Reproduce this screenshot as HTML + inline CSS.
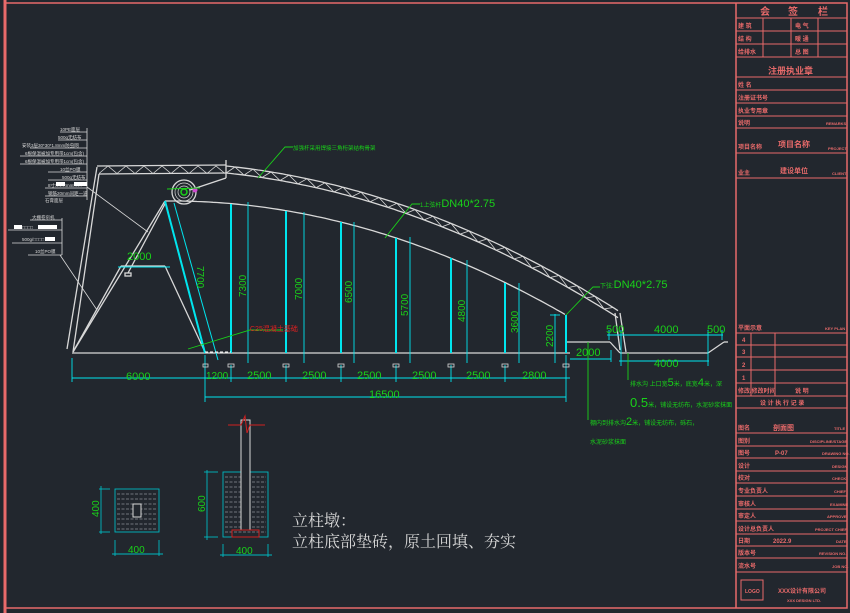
<!DOCTYPE html>
<html><head><meta charset="utf-8"><style>
html,body{margin:0;padding:0;background:#22272e;}
svg{display:block}
text{font-family:"Liberation Sans","Noto Sans CJK SC",sans-serif}
</style></head><body>
<svg id="s" width="850" height="613" viewBox="0 0 850 613" xmlns="http://www.w3.org/2000/svg">
<rect width="850" height="613" fill="#22272e"/>
<!-- frame -->
<g stroke="#e86a6a" fill="none">
<line x1="5" y1="0" x2="5" y2="613" stroke-width="3"/>
<rect x="5" y="3" width="842" height="605" stroke-width="1.5"/>
<line x1="736" y1="3" x2="736" y2="608" stroke-width="1.5"/>
<g stroke-width="1">
<line x1="736" y1="18" x2="847" y2="18"/><line x1="736" y1="31" x2="847" y2="31"/>
<line x1="736" y1="44" x2="847" y2="44"/><line x1="736" y1="57" x2="847" y2="57"/>
<line x1="736" y1="77" x2="847" y2="77"/><line x1="736" y1="90" x2="847" y2="90"/>
<line x1="736" y1="103" x2="847" y2="103"/><line x1="736" y1="116" x2="847" y2="116"/>
<line x1="736" y1="128" x2="847" y2="128"/><line x1="736" y1="153" x2="847" y2="153"/>
<line x1="736" y1="178" x2="847" y2="178"/>
<line x1="763" y1="18" x2="763" y2="57"/><line x1="791" y1="18" x2="791" y2="57"/><line x1="818" y1="18" x2="818" y2="57"/>
<line x1="736" y1="333" x2="847" y2="333"/><line x1="736" y1="345" x2="847" y2="345"/>
<line x1="736" y1="357" x2="847" y2="357"/><line x1="736" y1="370" x2="847" y2="370"/>
<line x1="736" y1="383" x2="847" y2="383"/><line x1="736" y1="396" x2="847" y2="396"/>
<line x1="736" y1="408" x2="847" y2="408"/>
<line x1="751" y1="333" x2="751" y2="396"/><line x1="775" y1="333" x2="775" y2="396"/>
<line x1="736" y1="433" x2="847" y2="433"/><line x1="736" y1="446" x2="847" y2="446"/>
<line x1="736" y1="458" x2="847" y2="458"/><line x1="736" y1="471" x2="847" y2="471"/>
<line x1="736" y1="483" x2="847" y2="483"/><line x1="736" y1="496" x2="847" y2="496"/>
<line x1="736" y1="509" x2="847" y2="509"/><line x1="736" y1="521" x2="847" y2="521"/>
<line x1="736" y1="534" x2="847" y2="534"/><line x1="736" y1="546" x2="847" y2="546"/>
<line x1="736" y1="558" x2="847" y2="558"/><line x1="736" y1="572" x2="847" y2="572"/>
<rect x="741" y="580" width="22" height="20"/>
</g></g>
<g fill="#e86a6a" font-size="6" font-weight="bold">
<text x="760" y="15" font-size="10">会</text><text x="788" y="15" font-size="10">签</text><text x="818" y="15" font-size="10">栏</text>
<text x="738" y="28">建 筑</text><text x="795" y="28">电 气</text>
<text x="738" y="41">结 构</text><text x="795" y="41">暖 通</text>
<text x="738" y="54">给排水</text><text x="795" y="54">总 图</text>
<text x="768" y="74" font-size="9">注册执业章</text>
<text x="738" y="87">姓 名</text><text x="738" y="100">注册证书号</text><text x="738" y="113">执业专用章</text>
<text x="738" y="125">说明</text><text x="826" y="125" font-size="4">REMARKS</text>
<text x="738" y="149">项目名称</text><text x="778" y="147" font-size="8">项目名称</text><text x="828" y="150" font-size="4">PROJECT</text>
<text x="738" y="175">业主</text><text x="780" y="173" font-size="7">建设单位</text><text x="832" y="175" font-size="4">CLIENT</text>
<text x="738" y="330">平面示意</text><text x="825" y="330" font-size="4">KEY PLAN</text>
<text x="742" y="342">4</text><text x="742" y="354">3</text><text x="742" y="367">2</text><text x="742" y="380">1</text>
<text x="738" y="393">修改/修改时间</text><text x="795" y="393">说 明</text>
<text x="760" y="405">设 计 执 行 记 录</text>
<text x="738" y="430">图名</text><text x="773" y="430" font-size="7">剖面图</text><text x="834" y="430" font-size="4">TITLE</text>
<text x="738" y="443">图别</text><text x="810" y="443" font-size="4">DISCIPLINE/STAGE</text>
<text x="738" y="455">图号</text><text x="775" y="455">P-07</text><text x="822" y="455" font-size="4">DRAWING NO.</text>
<text x="738" y="468">设计</text><text x="832" y="468" font-size="4">DESIGN</text>
<text x="738" y="480">校对</text><text x="832" y="480" font-size="4">CHECK</text>
<text x="738" y="493">专业负责人</text><text x="834" y="493" font-size="4">CHIEF</text>
<text x="738" y="506">审核人</text><text x="830" y="506" font-size="4">EXAMINE</text>
<text x="738" y="518">审定人</text><text x="827" y="518" font-size="4">APPROVE</text>
<text x="738" y="531">设计总负责人</text><text x="815" y="531" font-size="4">PROJECT CHIEF</text>
<text x="738" y="543">日期</text><text x="773" y="543">2022.9</text><text x="836" y="543" font-size="4">DATE</text>
<text x="738" y="555">版本号</text><text x="819" y="555" font-size="4">REVISION NO.</text>
<text x="738" y="568">流水号</text><text x="832" y="568" font-size="4">JOB NO.</text>
<text x="745" y="593" font-size="5">LOGO</text><text x="778" y="593">XXX设计有限公司</text><text x="787" y="602" font-size="4">XXX DESIGN LTD.</text>
</g>

<!-- left legends -->
<g stroke="#d8d8d8" stroke-width="0.8" fill="none">
<line x1="87" y1="128" x2="87" y2="200"/>
<line x1="60" y1="132" x2="87" y2="132"/><line x1="58" y1="140" x2="87" y2="140"/>
<line x1="30" y1="148" x2="87" y2="148"/><line x1="20" y1="156" x2="87" y2="156"/>
<line x1="20" y1="164" x2="87" y2="164"/><line x1="48" y1="172" x2="87" y2="172"/>
<line x1="48" y1="180" x2="87" y2="180"/><line x1="45" y1="188" x2="87" y2="188"/>
<line x1="45" y1="196" x2="87" y2="196"/>
<line x1="87" y1="187" x2="148" y2="232"/>
<line x1="62" y1="218" x2="62" y2="255"/>
<line x1="30" y1="220" x2="62" y2="220"/><line x1="8" y1="230" x2="62" y2="230"/>
<line x1="12" y1="243" x2="62" y2="243"/><line x1="28" y1="255" x2="62" y2="255"/>
<line x1="60" y1="255" x2="97" y2="310"/>
</g>
<g fill="#d8d8d8" font-size="4.5">
<text x="60" y="131">10PE面层</text><text x="58" y="139">500g无纺布</text>
<text x="22" y="147">安装3层30*30*1.8mm防虫网</text><text x="25" y="155">6根保温被加专用带1cm(包含)</text>
<text x="25" y="163">6根保温被加专用带1cm(包含)</text><text x="60" y="171">10丝PO膜</text>
<text x="62" y="179">500g无纺布</text><text x="48" y="187">8寸□□□□mm□□□</text><text x="48" y="195">钢筋20mm间距一道</text><text x="45" y="202">石膏面层</text>
<text x="32" y="219">大棚卷帘机</text><text x="14" y="229">□□□□□□□</text><text x="22" y="241">500g/□□□□</text><text x="35" y="253">10丝PO膜</text>
</g>
<g fill="#ffffff"><rect x="56" y="182" width="9" height="4"/><rect x="74" y="182" width="13" height="4"/><rect x="14" y="225" width="8" height="4"/><rect x="38" y="225" width="19" height="4"/><rect x="45" y="237" width="10" height="4"/></g>

<!-- structure -->
<g id="st" stroke="#d8d8d8" stroke-width="1.3" fill="none">
<line x1="72" y1="353" x2="570" y2="353"/>
<line x1="67" y1="349" x2="97" y2="167"/><line x1="73" y1="352" x2="99" y2="174"/>
<line x1="73" y1="352" x2="121" y2="266"/><line x1="121" y1="266" x2="165" y2="266"/><line x1="165" y1="266" x2="205" y2="352"/>
<line x1="73" y1="352" x2="165" y2="201"/>
<line x1="166" y1="202" x2="128" y2="273"/><rect x="125" y="273" width="6" height="3"/>
<line x1="97" y1="166" x2="226" y2="165"/><line x1="99" y1="174" x2="226" y2="173"/>
<line x1="190" y1="190" x2="226" y2="178"/><line x1="226" y1="160" x2="226" y2="178"/>
<path id="lower" d=""/><path id="top" d=""/><path id="bot" d=""/><polyline id="zz" points="" stroke-width="0.8"/><polyline id="zz2" points="" stroke-width="0.8"/>
<line x1="566" y1="342" x2="610" y2="342"/><line x1="610" y1="342" x2="620" y2="353"/>
<line x1="620" y1="353" x2="708" y2="353"/><line x1="708" y1="353" x2="724" y2="342"/><line x1="724" y1="342" x2="728" y2="342"/>
<line x1="620" y1="313" x2="626" y2="352"/><line x1="615" y1="313" x2="620" y2="350"/>
<circle cx="184" cy="192" r="12"/><circle cx="184" cy="192" r="9" stroke-width="0.7"/><circle cx="184" cy="192" r="6" stroke-width="0.7"/>
</g>
<circle cx="184" cy="192" r="3" fill="none" stroke="#19d219" stroke-width="1.5"/>
<circle cx="195" cy="190" r="2.5" fill="#d04bd0"/>
<!-- columns -->
<g stroke="#00e5ee" fill="none">
<line x1="165" y1="201" x2="205" y2="353" stroke-width="2"/>
<line x1="174" y1="203" x2="218" y2="360" stroke-width="1"/>
<g stroke-width="2">
<line x1="231" y1="204" x2="231" y2="353"/><line x1="286" y1="211" x2="286" y2="353"/>
<line x1="341" y1="222" x2="341" y2="353"/><line x1="396" y1="238" x2="396" y2="353"/>
<line x1="451" y1="258" x2="451" y2="353"/><line x1="505" y1="283" x2="505" y2="353"/>
<line x1="566" y1="315" x2="566" y2="353"/></g>
<g stroke-width="0.9">
<line x1="248" y1="202" x2="248" y2="363"/><line x1="304" y1="212" x2="304" y2="363"/>
<line x1="354" y1="222" x2="354" y2="363"/><line x1="410" y1="237" x2="410" y2="363"/>
<line x1="467" y1="260" x2="467" y2="363"/><line x1="519" y1="283" x2="519" y2="363"/>
<line x1="555" y1="314" x2="555" y2="363"/>
<line x1="72" y1="378" x2="570" y2="378"/><line x1="205" y1="397" x2="566" y2="397"/>
<line x1="72" y1="358" x2="72" y2="382"/><line x1="205" y1="355" x2="205" y2="402"/>
<line x1="231" y1="365" x2="231" y2="382"/><line x1="286" y1="365" x2="286" y2="382"/>
<line x1="341" y1="365" x2="341" y2="382"/><line x1="396" y1="365" x2="396" y2="382"/>
<line x1="451" y1="365" x2="451" y2="382"/><line x1="505" y1="365" x2="505" y2="382"/>
<line x1="566" y1="355" x2="566" y2="402"/>
<line x1="118" y1="267" x2="170" y2="267"/>
<line x1="570" y1="359" x2="611" y2="359"/><line x1="611" y1="350" x2="611" y2="362"/>
<line x1="607" y1="335" x2="723" y2="335"/><line x1="619" y1="361" x2="709" y2="361"/>
<line x1="609" y1="330" x2="609" y2="340"/><line x1="621" y1="330" x2="621" y2="366"/><line x1="708" y1="330" x2="708" y2="366"/><line x1="722" y1="330" x2="722" y2="340"/>
<line x1="550" y1="315" x2="560" y2="315"/>
</g></g>
<g fill="none" stroke="#d8d8d8" stroke-width="0.8">
<rect x="203" y="364" width="5" height="3"/><rect x="228" y="364" width="6" height="3"/><rect x="283" y="364" width="6" height="3"/>
<rect x="338" y="364" width="6" height="3"/><rect x="393" y="364" width="6" height="3"/><rect x="448" y="364" width="6" height="3"/>
<rect x="502" y="364" width="6" height="3"/><rect x="563" y="364" width="6" height="3"/>
</g>
<!-- green dims -->
<g fill="#19d219" font-size="11">
<text x="127" y="260">2000</text>
<text x="126" y="380" font-size="11">6000</text>
<text x="206" y="379" font-size="10">1200</text>
<text x="247" y="379">2500</text><text x="302" y="379">2500</text><text x="357" y="379">2500</text><text x="412" y="379">2500</text><text x="466" y="379">2500</text><text x="522" y="379">2800</text>
<text x="369" y="398">16500</text>
<text x="576" y="356">2000</text>
<text x="606" y="333">500</text><text x="654" y="333">4000</text><text x="707" y="333">500</text><text x="654" y="367">4000</text>
<text transform="translate(197,266) rotate(90)" font-size="10">7700</text>
<text transform="translate(246,297) rotate(-90)" font-size="10">7300</text>
<text transform="translate(302,300) rotate(-90)" font-size="10">7000</text>
<text transform="translate(352,303) rotate(-90)" font-size="10">6500</text>
<text transform="translate(408,316) rotate(-90)" font-size="10">5700</text>
<text transform="translate(465,322) rotate(-90)" font-size="10">4800</text>
<text transform="translate(518,333) rotate(-90)" font-size="10">3600</text>
<text transform="translate(553,347) rotate(-90)" font-size="10">2200</text>
<text x="420" y="207" font-size="11"><tspan font-size="6">1上弦杆</tspan>DN40*2.75</text>
<text x="600" y="288" font-size="11"><tspan font-size="6">下弦:</tspan>DN40*2.75</text>
<text x="293" y="150" font-size="5.5">加强杆采用焊接三角桁架结构骨架</text>
<text x="630" y="386" font-size="6">排水沟 上口宽<tspan font-size="11">5</tspan>米，底宽<tspan font-size="11">4</tspan>米，深</text>
<text x="630" y="407" font-size="6"><tspan font-size="13">0.5</tspan>米，铺设无纺布，水泥砂浆抹面</text>
<text x="590" y="425" font-size="6">棚内到排水沟<tspan font-size="11">2</tspan>米，铺设无纺布，砾石，</text>
<text x="590" y="444" font-size="6">水泥砂浆抹面</text>
</g>
<g stroke="#19d219" fill="none" stroke-width="0.9">
<polyline points="258,178 285,147 293,147"/>
<polyline points="385,238 412,204 420,204"/>
<polyline points="566,315 593,287 600,287"/>
<polyline points="188,349 250,330 283,330"/>
<line x1="588" y1="342" x2="588" y2="420"/>
<line x1="628" y1="353" x2="628" y2="380"/>
<line x1="167" y1="189" x2="200" y2="188"/>
</g>
<text x="250" y="331" fill="#e02020" font-size="7">C25混凝土基础</text>
<g stroke="#ffffff" stroke-dasharray="3,2" stroke-width="1"><line x1="205" y1="352" x2="231" y2="352"/></g>

<!-- details -->
<g id="det" stroke="#00b8c0" fill="none" stroke-width="0.9">
<rect x="115" y="489" width="44" height="43"/>
<rect x="223" y="472" width="45" height="65"/>
<line x1="101" y1="486" x2="101" y2="534"/><line x1="99" y1="489" x2="110" y2="489"/><line x1="99" y1="532" x2="110" y2="532"/>
<line x1="112" y1="554" x2="163" y2="554"/><line x1="115" y1="540" x2="115" y2="556"/><line x1="159" y1="540" x2="159" y2="556"/>
<line x1="207" y1="470" x2="207" y2="540"/><line x1="204" y1="472" x2="218" y2="472"/><line x1="204" y1="537" x2="218" y2="537"/>
<line x1="220" y1="555" x2="272" y2="555"/><line x1="223" y1="544" x2="223" y2="557"/><line x1="268" y1="544" x2="268" y2="557"/>
</g>
<g stroke="#8a8f96" stroke-width="0.8" stroke-dasharray="3,1.5" id="hatch"></g>
<rect x="133" y="504" width="8" height="13" fill="#22272e" stroke="#d8d8d8"/>
<rect x="241" y="420" width="9" height="110" fill="#22272e" stroke="#d8d8d8"/>
<rect x="232" y="530" width="27" height="7" fill="none" stroke="#d02020"/>
<polyline points="228,425 241,425 245,416 247,433 250,425 265,425" fill="none" stroke="#d02020"/>
<g fill="#19d219" font-size="10">
<text x="128" y="553">400</text><text x="236" y="554">400</text>
<text transform="translate(99,517) rotate(-90)">400</text>
<text transform="translate(205,512) rotate(-90)">600</text>
</g>
<g fill="#d8d8d8" font-family="'Liberation Serif','Noto Serif CJK SC',serif" font-size="16">
<text x="292" y="526" style="font-family:'Liberation Serif','Noto Serif CJK SC',serif">立柱墩：</text>
<text x="292" y="547" style="font-family:'Liberation Serif','Noto Serif CJK SC',serif">立柱底部垫砖，原土回填、夯实</text>
</g>
</svg>
<script>
function ty(x){var d=x-226;return 166+0.1017*d+0.000682*d*d;}
function ly(x){var d=x-165;return 201-0.0088*d+0.000731*d*d;}
var t=[],b=[],z=[],l=[];
for(var x=226;x<=620;x+=4){t.push(x+','+ty(x).toFixed(1));b.push(x+','+(ty(x)+7).toFixed(1));}
for(var x=165;x<=566;x+=4){l.push(x+','+ly(x).toFixed(1));}
var k=0;for(var x=226;x<=618;x+=9){z.push(x+','+(k%2?ty(x):ty(x)+7).toFixed(1));k++;}
var z2=[];k=0;for(var x=99;x<=226;x+=9){z2.push(x+','+(k%2?166:173.5));k++;}
document.getElementById('top').setAttribute('d','M'+t.join(' L'));
document.getElementById('bot').setAttribute('d','M'+b.join(' L'));
document.getElementById('lower').setAttribute('d','M'+l.join(' L'));
document.getElementById('zz').setAttribute('points',z.join(' '));
document.getElementById('zz2').setAttribute('points',z2.join(' '));
var h=document.getElementById('hatch'),s='';
for(var y=494;y<532;y+=5)s+='<line x1="117" y1="'+y+'" x2="157" y2="'+y+'"/>';
for(var y=477;y<537;y+=5)s+='<line x1="225" y1="'+y+'" x2="266" y2="'+y+'"/>';
h.innerHTML=s;
</script>
</body></html>
